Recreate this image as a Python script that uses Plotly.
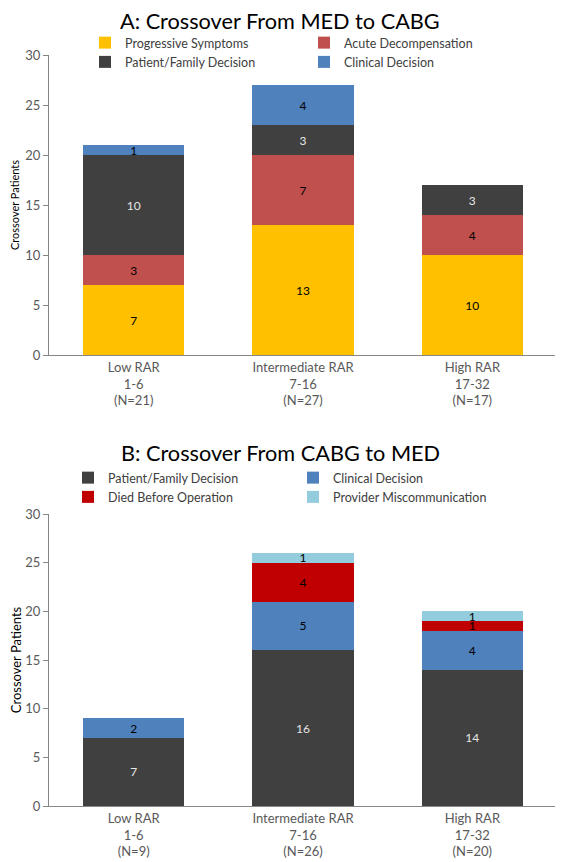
import plotly.graph_objects as go

# ---------- data ----------
categories_a = ["Low RAR<br>1-6<br>(N=21)", "Intermediate RAR<br>7-16<br>(N=27)", "High RAR<br>17-32<br>(N=17)"]
progressive = [7, 13, 10]
acute = [3, 7, 4]
patient_a = [10, 3, 3]
clinical_a = [1, 4, 0]

categories_b = ["Low RAR<br>1-6<br>(N=9)", "Intermediate RAR<br>7-16<br>(N=26)", "High RAR<br>17-32<br>(N=20)"]
patient_b = [7, 16, 14]
clinical_b = [2, 5, 4]
died = [0, 4, 1]
provider = [0, 1, 1]

FONT = "Lato, 'Open Sans', sans-serif"
AXIS_COL = "#868686"
TICK_COL = "#595959"

def lab(vals):
    return [str(v) if v else "" for v in vals]

fig = go.Figure()

series_a = [
    ("Progressive Symptoms", progressive, "#FFC000", "#000000"),
    ("Acute Decompensation", acute, "#C0504D", "#000000"),
    ("Patient/Family Decision", patient_a, "#404040", "#E6E6E6"),
    ("Clinical Decision", clinical_a, "#4F81BD", "#000000"),
]
for name, vals, col, tcol in series_a:
    fig.add_trace(go.Bar(
        x=categories_a, y=vals, name=name, marker_color=col, marker_line_width=0,
        text=lab(vals), textposition="inside", insidetextanchor="middle", textangle=0,
        textfont=dict(size=12, color=tcol, family=FONT),
        xaxis="x", yaxis="y", legend="legend",
    ))

series_b = [
    ("Patient/Family Decision", patient_b, "#404040", "#E6E6E6"),
    ("Clinical Decision", clinical_b, "#4F81BD", "#000000"),
    ("Died Before Operation", died, "#C00000", "#000000"),
    ("Provider Miscommunication", provider, "#93CDDD", "#000000"),
]
for name, vals, col, tcol in series_b:
    fig.add_trace(go.Bar(
        x=categories_b, y=vals, name=name, marker_color=col, marker_line_width=0,
        text=lab(vals), textposition="inside", insidetextanchor="middle", textangle=0,
        textfont=dict(size=12, color=tcol, family=FONT),
        xaxis="x2", yaxis="y2", legend="legend2",
    ))

# page body has an 8px margin, so the figure is drawn 8px smaller / offset
OFF = 8
FW, FH = 563 - OFF, 862 - OFF
L = 49 - OFF
W = 508.0
def py(px):
    return 1 - (px - OFF) / FH
def pxx(px):
    return (px - OFF - L) / W

yaxis_common = dict(
    range=[0, 30], dtick=5, showgrid=False, zeroline=False,
    showline=True, linecolor=AXIS_COL, linewidth=1,
    ticks="outside", ticklen=5, tickcolor=AXIS_COL,
    tickfont=dict(size=13, color=TICK_COL, family=FONT),
)
xaxis_common = dict(
    showgrid=False, zeroline=False, showline=True, linecolor=AXIS_COL, linewidth=1,
    ticks="", tickfont=dict(size=13, color=TICK_COL, family=FONT),
)

legend_common = dict(
    orientation="h", xanchor="left", yanchor="top", entrywidthmode="pixels",
    font=dict(size=12.5, color="#404040", family=FONT), bgcolor="rgba(0,0,0,0)",
    itemwidth=30, tracegroupgap=0, traceorder="normal",
)

fig.update_layout(
    width=FW, height=FH,
    margin=dict(l=L, r=FW - L - W, t=0, b=0, autoexpand=False),
    paper_bgcolor="white", plot_bgcolor="white",
    barmode="stack", bargap=0.4,
    showlegend=True,
    uniformtext=dict(minsize=12, mode="show"),
    font=dict(family=FONT),
    xaxis=dict(xaxis_common, domain=[0, 1], anchor="y"),
    yaxis=dict(yaxis_common, domain=[py(355), py(55)], anchor="x",
               title=dict(text="Crossover Patients", font=dict(size=11, color="#000000", family=FONT), standoff=7)),
    xaxis2=dict(xaxis_common, domain=[0, 1], anchor="y2"),
    yaxis2=dict(yaxis_common, domain=[py(806), py(514)], anchor="x2",
                title=dict(text="Crossover Patients", font=dict(size=13, color="#000000", family=FONT), standoff=4)),
    legend=dict(legend_common, entrywidth=174, x=pxx(85), y=py(28)),
    legend2=dict(legend_common, entrywidth=180, x=pxx(68), y=py(463)),
    annotations=[
        dict(text="A: Crossover From MED to CABG", xref="paper", yref="paper",
             x=pxx(280), y=py(21), xanchor="center", yanchor="middle", showarrow=False,
             font=dict(size=21.7, color="#000000", family=FONT)),
        dict(text="B: Crossover From CABG to MED", xref="paper", yref="paper",
             x=pxx(280), y=py(453), xanchor="center", yanchor="middle", showarrow=False,
             font=dict(size=21.7, color="#000000", family=FONT)),
    ],
)

fig.write_html("out.html")
